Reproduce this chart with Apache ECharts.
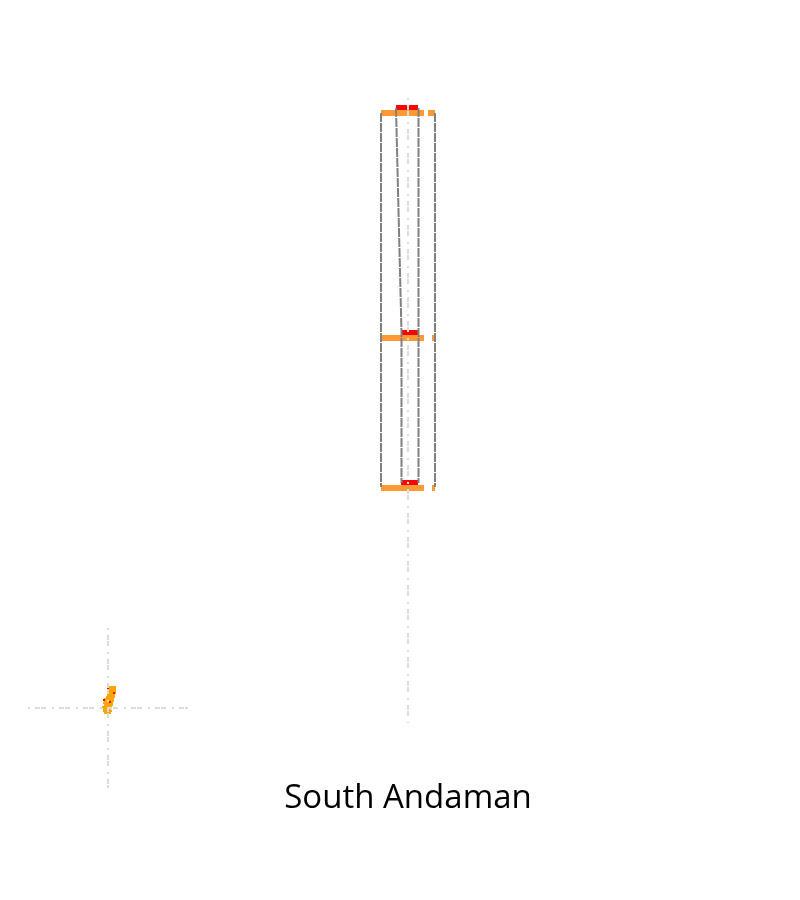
<!DOCTYPE html>
<html><head><meta charset="utf-8">
<script src="https://cdn.jsdelivr.net/npm/echarts@6/dist/echarts.min.js"></script>
<style>html,body{margin:0;padding:0;background:#fff}#c{width:800px;height:900px}</style>
</head><body><div id="c"></div>
<script>
const titleText = 'South Andaman';
const crossLarge = [[408,98],[408,723]];
const crossSmallV = [[108,628],[108,788]];
const crossSmallH = [[28,708],[188,708]];
const dashedOuterL = [[381,113],[381,338],[381,487]];
const dashedInnerR = [[418.5,108],[418.5,333],[418.5,483]];
const dashedOuterR = [[435,113],[435,338],[435,487]];
const dashedSlant = [[396,108],[401.5,333],[401.5,483]];
const orangeA = [[[381,113],[424,113]],[[381,338],[424,338]],[[381,488],[424,488]]];
const orangeB = [[[428,113],[435,113]],[[432,338],[435,338]],[[432,488],[435,488]]];
const redBars = [[[396,107.5],[418,107.5]],[[401,332.5],[418,332.5]],[[401,482.5],[418,482.5]]];
const blobRows = [
 [686,108,116],[688,108,116],[690,107,116],[692,107,116],[694,107,115],
 [696,106,115],[698,104,114],[700,104,114],[702,103,113],
 [704,104,113],[706,102,112],[708,103,111],[710,103,112],
 [712,104,111],[714,107,109]
];
const redDots = [[[107,689],[109,689]],[[113,693],[115,693]],[[103,700],[105,700]],[[109,702],[111,702]]];

function line(data, color, width, dash, z) {
  return { type:'line', data, symbol:'none', silent:true, z, animation:false,
    lineStyle:{ color, width, type: dash || 'solid', cap:'butt' } };
}
const series = [];
orangeA.concat(orangeB).forEach(s => series.push(line(s,'#ff9933',6,null,2)));
redBars.forEach(s => series.push(line(s,'#ff0000',5,null,2)));
[dashedOuterL,dashedInnerR,dashedOuterR,dashedSlant].forEach(s => series.push(line(s,'#808080',2,[9,1],3)));
blobRows.forEach(r => series.push(line([[r[1],r[0]+1],[r[2],r[0]+1]],'#ffa500',2,null,4)));
redDots.forEach(s => series.push(line(s,'#ff0000',2,null,5)));
[crossLarge,crossSmallV,crossSmallH].forEach(s => series.push(line(s,'#dcdcdc',2,[2,5,5,1,5,6],6)));

const chart = echarts.init(document.getElementById('c'));
chart.setOption({
  animation:false,
  backgroundColor:'#fff',
  title:{ text:titleText, left:403, top:777, textAlign:'center',
    textStyle:{ fontFamily:'Open Sans', fontWeight:'normal', fontSize:33, color:'#000' } },
  grid:{ left:0, right:0, top:0, bottom:0 },
  xAxis:{ type:'value', min:0, max:800, show:false },
  yAxis:{ type:'value', min:0, max:900, inverse:true, show:false },
  series
});
</script></body></html>
